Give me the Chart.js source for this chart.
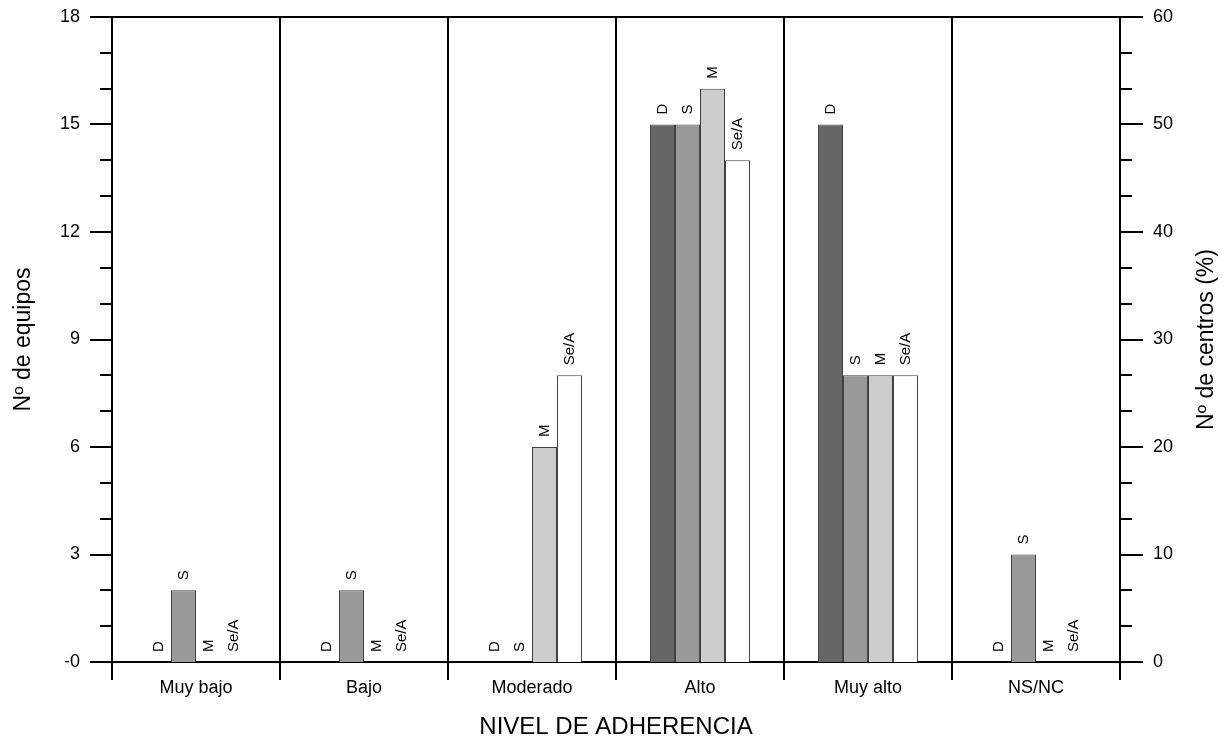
<!DOCTYPE html>
<html>
<head>
<meta charset="utf-8">
<script src="https://cdn.jsdelivr.net/npm/chart.js@4"></script>
<style>
  html, body { margin: 0; padding: 0; background: #fff; }
  #wrap { width: 1225px; height: 742px; }
</style>
</head>
<body>
<div id="wrap"><canvas id="chart" width="1225" height="742"></canvas></div>
<script>
var categories = ["Muy bajo", "Bajo", "Moderado", "Alto", "Muy alto", "NS/NC"];
var seriesNames = ["D", "S", "M", "Se/A"];
var valuesD   = [0, 0, 0, 15, 15, 0];
var valuesS   = [2, 2, 0, 15, 8, 3];
var valuesM   = [0, 0, 6, 16, 8, 0];
var valuesSeA = [0, 0, 8, 14, 8, 0];
var seriesColors = ["#666666", "#999999", "#cccccc", "#ffffff"];
var leftTicks = [0, 3, 6, 9, 12, 15, 18];
var rightTicks = [0, 10, 20, 30, 40, 50, 60];

var FONT = "'Liberation Sans', Arial, sans-serif";

var seriesValues = [valuesD, valuesS, valuesM, valuesSeA];
var datasets = seriesNames.map(function (name, i) {
    return {
        label: name,
        data: seriesValues[i],
        backgroundColor: seriesColors[i],
        borderColor: '#404040',
        borderWidth: 1,
        borderSkipped: 'start',
        barPercentage: 1,
        categoryPercentage: 0.595,
        yAxisID: 'y'
    };
});

// frame, minor ticks, right title and labels over the bars
var extrasPlugin = {
    id: 'extras',
    afterDraw: function (chart) {
        var ctx = chart.ctx;
        var area = chart.chartArea;
        var y = chart.scales.y;
        ctx.save();
        ctx.strokeStyle = '#000';
        ctx.lineWidth = 2;
        // top frame line
        ctx.beginPath();
        ctx.moveTo(area.left, area.top);
        ctx.lineTo(area.right, area.top);
        ctx.stroke();
        // ticks on both sides, every unit of the left axis
        for (var v = 0; v <= 18; v++) {
            var py = Math.round(y.getPixelForValue(v));
            var major = v % 3 === 0;
            ctx.beginPath();
            ctx.moveTo(area.left - (major ? 22 : 12), py);
            ctx.lineTo(area.left, py);
            ctx.moveTo(area.right, py);
            ctx.lineTo(area.right + (major ? 23 : 12), py);
            ctx.stroke();
        }
        // right axis title
        ctx.fillStyle = '#000';
        ctx.font = '23px ' + FONT;
        ctx.textAlign = 'center';
        ctx.textBaseline = 'middle';
        ctx.save();
        ctx.translate(1207, (area.top + area.bottom) / 2);
        ctx.rotate(-Math.PI / 2);
        ctx.fillText('Nº de centros (%)', 0, 0);
        ctx.restore();
        // series labels above each bar
        ctx.font = '15px ' + FONT;
        ctx.textAlign = 'left';
        chart.data.datasets.forEach(function (ds, i) {
            var meta = chart.getDatasetMeta(i);
            meta.data.forEach(function (bar) {
                ctx.save();
                ctx.translate(bar.x, bar.y - 10);
                ctx.rotate(-Math.PI / 2);
                ctx.fillText(ds.label, 0, 0);
                ctx.restore();
            });
        });
        ctx.restore();
    }
};

function noPad(s) {
    s.paddingTop = 0;
    s.paddingBottom = 0;
}

var ctx = document.getElementById('chart').getContext('2d');
var chart = new Chart(ctx, {
    type: 'bar',
    data: { labels: categories, datasets: datasets },
    options: {
        responsive: false,
        animation: false,
        layout: { autoPadding: false, padding: { top: 17, left: 0, right: 0, bottom: 0 } },
        plugins: {
            legend: { display: false },
            tooltip: { enabled: false }
        },
        scales: {
            x: {
                offset: true,
                grid: {
                    display: true,
                    offset: true,
                    drawOnChartArea: true,
                    drawTicks: true,
                    tickLength: 18,
                    color: '#000',
                    lineWidth: 2
                },
                border: { display: true, color: '#000', width: 2 },
                ticks: {
                    color: '#000',
                    padding: -3,
                    font: { family: FONT, size: 18 }
                },
                title: {
                    display: true,
                    text: 'NIVEL DE ADHERENCIA',
                    color: '#000',
                    font: { family: FONT, size: 24 },
                    padding: { top: 0, bottom: 0 }
                },
                afterFit: function (s) { s.height = 80; s.paddingLeft = 0; s.paddingRight = 0; }
            },
            y: {
                position: 'left',
                min: 0,
                max: 18,
                afterBuildTicks: function (s) {
                    s.ticks = leftTicks.map(function (v) { return { value: v }; });
                },
                grid: { display: false },
                border: { display: true, color: '#000', width: 2 },
                ticks: {
                    color: '#000',
                    padding: 24,
                    font: { family: FONT, size: 18 },
                    callback: function (v) { return v === 0 ? '-0' : String(v); }
                },
                title: {
                    display: true,
                    text: 'Nº de equipos',
                    color: '#000',
                    font: { family: FONT, size: 23 },
                    padding: { top: 10, bottom: 0 }
                },
                afterFit: function (s) { s.width = 112; noPad(s); }
            },
            y1: {
                position: 'right',
                min: 0,
                max: 60,
                afterBuildTicks: function (s) {
                    s.ticks = rightTicks.map(function (v) { return { value: v }; });
                },
                grid: { display: false },
                border: { display: true, color: '#000', width: 2 },
                ticks: {
                    color: '#000',
                    padding: 25,
                    font: { family: FONT, size: 18 }
                },
                afterFit: function (s) { s.width = 105; noPad(s); }
            }
        }
    },
    plugins: [extrasPlugin]
});
</script>
</body>
</html>
